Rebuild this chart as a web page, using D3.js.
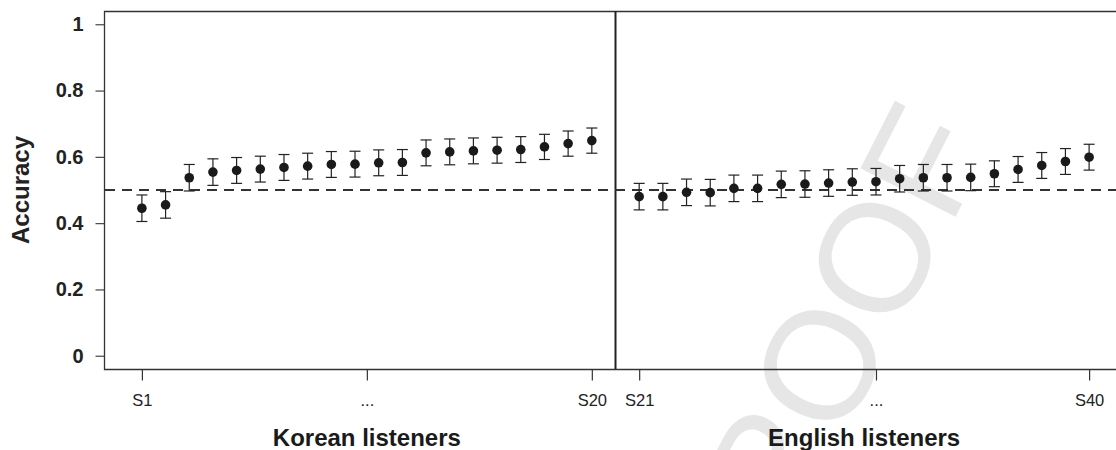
<!DOCTYPE html>
<html>
<head>
<meta charset="utf-8">
<script src="https://cdn.jsdelivr.net/npm/d3@7"></script>
<style>
  body { margin: 0; background: #fff; }
  svg text { font-family: "Liberation Sans", Arial, sans-serif; }
</style>
</head>
<body>
<svg id="chart" width="1116" height="450"></svg>
<script>
// per-listener accuracy, sorted within group
let korean_ids = d3.range(1, 21).map(i => "S" + i)
let korean_acc = [0.445, 0.455, 0.537, 0.554, 0.559, 0.563, 0.568, 0.572, 0.577, 0.578,
                  0.582, 0.583, 0.612, 0.615, 0.618, 0.620, 0.622, 0.630, 0.640, 0.649]
let korean_ci = [0.040, 0.040, 0.040, 0.040, 0.039, 0.039, 0.039, 0.039, 0.039, 0.039,
                 0.039, 0.039, 0.039, 0.039, 0.039, 0.039, 0.039, 0.038, 0.038, 0.038]

let english_ids = d3.range(21, 41).map(i => "S" + i)
let english_acc = [0.480, 0.480, 0.493, 0.492, 0.505, 0.505, 0.517, 0.518, 0.521, 0.524,
                   0.525, 0.534, 0.537, 0.537, 0.538, 0.549, 0.562, 0.574, 0.586, 0.599]
let english_ci = [0.040, 0.040, 0.040, 0.040, 0.040, 0.040, 0.040, 0.040, 0.040, 0.040,
                  0.040, 0.040, 0.040, 0.040, 0.040, 0.039, 0.039, 0.039, 0.039, 0.039]

let y_ticks = [0, 0.2, 0.4, 0.6, 0.8, 1]
let x_tick_pos = [1, 10.5, 20, 22, 32, 41]
let x_tick_labels = ["S1", "...", "S20", "S21", "...", "S40"]
let group_labels = ["Korean listeners", "English listeners"]
let chance = 0.5

let width = 1116,
  height = 450,
  svg = d3.select("#chart")

let x = d3.scaleLinear().domain([-0.6, 42.6]).range([104, 1127])
let y = d3.scaleLinear().domain([-0.04, 1.04]).range([369, 11])

let points = korean_acc.map((v, i) => ({ id: korean_ids[i], pos: i + 1, acc: v, ci: korean_ci[i] }))
  .concat(english_acc.map((v, i) => ({ id: english_ids[i], pos: i + 22, acc: v, ci: english_ci[i] })))

// PROOF watermark
svg.append("text")
  .attr("transform", "translate(820,365) rotate(-63)")
  .attr("text-anchor", "middle")
  .attr("dominant-baseline", "central")
  .style("font-size", "155px")
  .style("fill", "#e6e6e6")
  .text("PROOF")

let frame_col = "#333"

// frame
svg.append("path")
  .attr("d", `M${x.range()[1]},${y.range()[1] + 0.5}H${x.range()[0] + 0.5}V${y.range()[0] + 0.5}H${x.range()[1]}`)
  .attr("fill", "none")
  .attr("stroke", frame_col)
  .attr("stroke-width", 1.3)

// divider between groups
svg.append("line")
  .attr("x1", x(21)).attr("x2", x(21))
  .attr("y1", y.range()[1]).attr("y2", y.range()[0])
  .attr("stroke", "#222")
  .attr("stroke-width", 2)

// y axis
let yAxis = svg.append("g")
  .attr("transform", `translate(${x.range()[0] + 0.5},0)`)
  .call(d3.axisLeft(y).tickValues(y_ticks).tickFormat(d3.format("")).tickSize(9).tickPadding(12))
yAxis.select(".domain").remove()
yAxis.selectAll(".tick line")
  .attr("x1", -9).attr("x2", 0)
  .attr("stroke", "#444")
  .attr("stroke-width", 1.2)
yAxis.selectAll(".tick text")
  .attr("x", -21)
  .attr("text-anchor", "end")
  .attr("fill", "#222")
  .style("font-size", "20px")
  .style("font-weight", "bold")
  .style("font-family", "Liberation Sans, Arial, sans-serif")

svg.append("text")
  .attr("transform", `translate(29,${y(0.5)}) rotate(-90)`)
  .attr("text-anchor", "middle")
  .style("font-size", "24px")
  .style("font-weight", "bold")
  .attr("fill", "#222")
  .text("Accuracy")

// x axis
let xAxis = svg.append("g")
  .attr("transform", `translate(0,${y.range()[0] + 0.5})`)
  .call(d3.axisBottom(x).tickValues(x_tick_pos)
    .tickFormat((d, i) => x_tick_labels[i]).tickSize(11).tickPadding(14))
xAxis.select(".domain").remove()
xAxis.selectAll("line").attr("stroke", "#333").attr("stroke-width", 1.2)
xAxis.selectAll("text")
  .attr("fill", "#222")
  .style("font-size", "16.5px")
  .style("font-family", "Liberation Sans, Arial, sans-serif")

svg.selectAll(".group-label")
  .data(group_labels).enter()
  .append("text")
  .attr("class", "group-label")
  .attr("x", (d, i) => x(i == 0 ? 10.5 : 31.5))
  .attr("y", 446)
  .attr("text-anchor", "middle")
  .style("font-size", "24px")
  .style("font-weight", "bold")
  .attr("fill", "#1a1a1a")
  .text(d => d)

// chance line
svg.append("line")
  .attr("x1", x.range()[0] + 1).attr("x2", x.range()[1])
  .attr("y1", y(chance)).attr("y2", y(chance))
  .attr("stroke", "#333")
  .attr("stroke-width", 2)
  .attr("stroke-dasharray", "10,7")

// error bars
let bars = svg.append("g").selectAll("g")
  .data(points).enter()
  .append("g")
  .attr("stroke", "#222")
  .attr("stroke-width", 1.2)
bars.append("line")
  .attr("x1", d => x(d.pos)).attr("x2", d => x(d.pos))
  .attr("y1", d => y(d.acc - d.ci)).attr("y2", d => y(d.acc + d.ci))
bars.append("line")
  .attr("x1", d => x(d.pos) - 5.5).attr("x2", d => x(d.pos) + 5.5)
  .attr("y1", d => y(d.acc + d.ci)).attr("y2", d => y(d.acc + d.ci))
bars.append("line")
  .attr("x1", d => x(d.pos) - 5.5).attr("x2", d => x(d.pos) + 5.5)
  .attr("y1", d => y(d.acc - d.ci)).attr("y2", d => y(d.acc - d.ci))

// points
svg.append("g").selectAll("circle")
  .data(points).enter()
  .append("circle")
  .attr("cx", d => x(d.pos))
  .attr("cy", d => y(d.acc))
  .attr("r", 4.8)
  .attr("fill", "#1a1a1a")
</script>
</body>
</html>
